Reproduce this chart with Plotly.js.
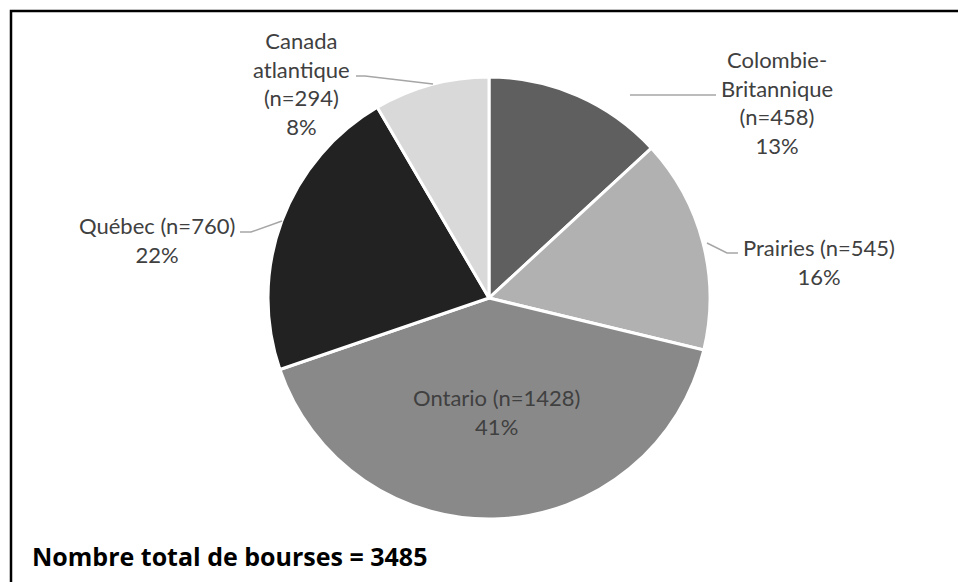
<!DOCTYPE html>
<html>
<head>
<meta charset="utf-8">
<script src="https://cdn.plot.ly/plotly-3.0.1.min.js"></script>
<style>
html,body{margin:0;padding:0;background:#fff;}
#chart{width:958px;height:582px;}
</style>
</head>
<body>
<div id="chart"></div>
<script>
// Data
const regions = ["Colombie-Britannique", "Prairies", "Ontario", "Québec", "Canada atlantique"];
const counts = [458, 545, 1428, 760, 294];
const percents = ["13%", "16%", "41%", "22%", "8%"];
const labelText = [
  "Colombie-<br>Britannique<br>(n=458)<br>13%",
  "Prairies (n=545)<br>16%",
  "Ontario (n=1428)<br>41%",
  "Québec (n=760)<br>22%",
  "Canada<br>atlantique<br>(n=294)<br>8%"
];
const totalText = "Nombre total de bourses = 3485";

// Style
const sliceColors = ["#5f5f5f", "#b1b1b1", "#898989", "#222222", "#d9d9d9"];
const W = 958, H = 582;
const px = x => x / W;
const py = y => 1 - y / H;

const cx = 489, cy = 298, r = 221;
const FONT = "Lato, 'Open Sans', sans-serif";

const trace = {
  type: "pie",
  labels: regions,
  values: counts,
  sort: false,
  direction: "clockwise",
  rotation: 0,
  textinfo: "none",
  hoverinfo: "label+value+percent",
  marker: { colors: sliceColors, line: { color: "#ffffff", width: 3 } },
  domain: { x: [px(cx - r), px(cx + r)], y: [py(cy + r), py(cy - r)] },
  showlegend: false
};

// label positions (pixels) for each region
const labelPos = [[777, 102], [819, 262], [497, 412], [157, 240], [301, 84]];
const annotations = labelText.map((t, i) => ({
  xref: "paper", yref: "paper",
  x: px(labelPos[i][0]), y: py(labelPos[i][1]),
  xanchor: "center", yanchor: "middle",
  text: t, showarrow: false, align: "center",
  font: { family: FONT, size: 22, color: "#404040" }
}));
annotations.push({
  xref: "paper", yref: "paper",
  x: px(30), y: py(556), xanchor: "left", yanchor: "middle",
  text: "<b>" + totalText + "</b>", showarrow: false,
  font: { family: "'Open Sans', sans-serif", size: 25, color: "#000000" }
});

function pathOf(pts) {
  return pts.map((p, i) => (i ? "L" : "M") + px(p[0]) + "," + py(p[1])).join(" ");
}
const leaders = [
  [[630, 95], [716, 95]],
  [[707, 243], [727, 253], [738, 253]],
  [[240, 232], [251, 232], [282, 221]],
  [[356, 76], [365, 76], [433, 84]]
];
const shapes = leaders.map(pts => ({
  type: "path", xref: "paper", yref: "paper", path: pathOf(pts),
  line: { color: "#a6a6a6", width: 1.5 }
}));
shapes.push({
  type: "rect", xref: "paper", yref: "paper",
  x0: px(11), x1: px(970), y0: py(600), y1: py(11),
  line: { color: "#000000", width: 2.5 }, layer: "above"
});

const layout = {
  width: W, height: H,
  margin: { l: 0, r: 0, t: 0, b: 0 },
  paper_bgcolor: "#ffffff",
  plot_bgcolor: "#ffffff",
  annotations: annotations,
  shapes: shapes,
  showlegend: false
};

Plotly.newPlot("chart", [trace], layout, { displayModeBar: false, staticPlot: true });
</script>
</body>
</html>
